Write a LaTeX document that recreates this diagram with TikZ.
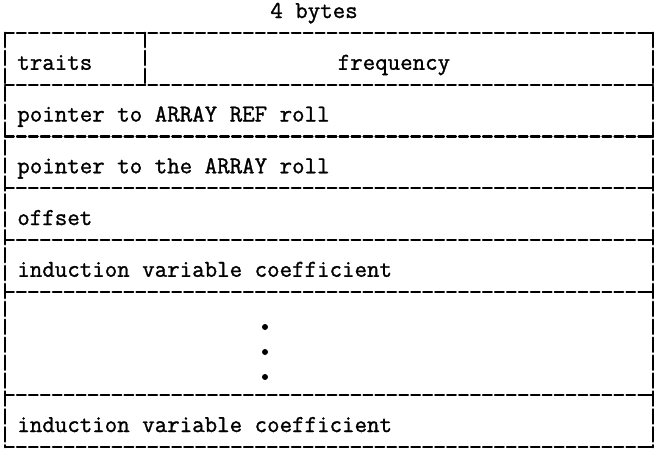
\documentclass[tikz,border=0pt]{standalone}
\usepackage{fontspec}
\usepackage{tikz}
\usetikzlibrary{calc}
\usepackage{tkz-euclide}
\newfontfamily\typefont{Latin Modern Mono}[FakeBold=1.2]

\tikzset{
  rule/.style={black, line width=1.25pt, dash pattern=on 5pt off 1.8pt},
  wall/.style={black, line width=1.6pt, dash pattern=on 8pt off 2.2pt},
  cell/.style={anchor=base west, inner sep=0pt, font=\typefont\fontsize{13.8}{16}\selectfont}
}

\begin{document}
\begin{tikzpicture}
                \useasboundingbox (0,0) rectangle (13.26,9.02);
                \tkzDefPoints{0.1/8.36/L0, 0.1/7.325/L1, 0.1/6.29/L2, 0.1/5.255/L3,
                  0.1/4.22/L4, 0.1/3.185/L5, 0.1/1.115/L6, 0.1/0.08/L7}
                \tkzDefPoints{13.06/8.36/R0, 13.06/7.325/R1, 13.06/6.29/R2, 13.06/5.255/R3,
                  13.06/4.22/R4, 13.06/3.185/R5, 13.06/1.115/R6, 13.06/0.08/R7}
                \tkzDefPoints{2.9/8.36/T, 2.9/7.325/U}
                \tkzDefPoints{5.3/2.48/D1, 5.3/1.98/D2, 5.3/1.48/D3}
                % frame and row rules
                \tkzDrawSegments[rule](L0,R0 L1,R1 L2,R2 L3,R3 L4,R4 L5,R5 L6,R6 L7,R7)
                \tkzDrawSegments[wall](L0,L7 R0,R7 T,U)
                % junction ticks on the right wall
                \foreach \k in {0,...,7} {
                  \draw[black, line width=1.25pt] ($(R\k)+(-0.12,0)$) -- (R\k);
                }
                % texts
                \node[cell, anchor=base] (width) at (6.28,8.66) {4 bytes};
                \node[cell] (traits) at ($(L1)+(0.24,0.3)$) {traits};
                \node[cell, anchor=base] (freq) at ($(U)!0.49!(R1)+(0,0.3)$) {frequency};
                \node[cell] (aref) at ($(L2)+(0.24,0.3)$) {pointer to ARRAY REF roll};
                \node[cell] (aroll) at ($(L3)+(0.24,0.3)$) {pointer to the ARRAY roll};
                \node[cell] (offs) at ($(L4)+(0.24,0.3)$) {offset};
                \node[cell] (coefA) at ($(L5)+(0.24,0.3)$) {induction variable coefficient};
                \node[cell] (coefB) at ($(L7)+(0.24,0.3)$) {induction variable coefficient};
                \foreach \d in {D1,D2,D3} {
                  \fill[black] (\d) circle (0.06);
                }
            \end{tikzpicture}
\end{document}
